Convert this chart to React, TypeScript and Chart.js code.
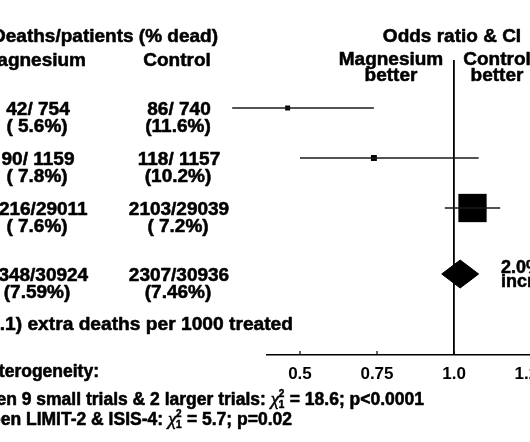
import { useEffect, useRef } from 'react';
import { Chart, registerables } from 'chart.js';

Chart.register(...registerables);

// ---------- data ----------
const STUDIES = ['9 small trials', 'LIMIT-2', 'ISIS-4', 'Overall'];
const MAG_COUNTS = ['42/ 754', '90/ 1159', '2216/29011', '2348/30924'];
const MAG_PCTS = ['( 5.6%)', '( 7.8%)', '( 7.6%)', '(7.59%)'];
const CTRL_COUNTS = ['86/ 740', '118/ 1157', '2103/29039', '2307/30936'];
const CTRL_PCTS = ['(11.6%)', '(10.2%)', '( 7.2%)', '(7.46%)'];
const ODDS_RATIO = [0.46, 0.74, 1.06, 1.02];
const CI_LOW = [0.28, 0.5, 0.97, 0.96];
const CI_HIGH = [0.74, 1.08, 1.15, 1.08];
const X_TICKS = [0.5, 0.75, 1.0, 1.25];
const X_TICK_LABELS = ['0.5', '0.75', '1.0', '1.25'];

const HEADER_LEFT = 'Deaths/patients (% dead)';
const COL_MAG = 'Magnesium';
const COL_CTRL = 'Control';
const HEADER_RIGHT = 'Odds ratio & CI';
const FAVOURS_LEFT = ['Magnesium', 'better'];
const FAVOURS_RIGHT = ['Control', 'better'];
const OVERALL_NOTE = ['2.0% odds', 'increase'];
const EXTRA_DEATHS = '(SD 2.1) extra deaths per 1000 treated';
const HET_TITLE = 'Heterogeneity:';
const HET_TESTS = [
  { pre: 'between 9 small trials & 2 larger trials: ', post: ' = 18.6; p<0.0001' },
  { pre: 'between LIMIT-2 & ISIS-4: ', post: ' = 5.7; p=0.02' },
];

// ---------- layout (not data) ----------
const ROW_POS = [0.96, 1.96, 2.96, 4.28];
const BOX_RADIUS = [3.5, 4.2, 20];
const DIAMOND_HALF = 0.28;
const SANS = '"Liberation Sans", Arial, Helvetica, sans-serif';
const F = (size: number) => `bold ${size}px ${SANS}`;
const STROKE = 0.55;

const textPlugin = {
  id: 'forestText',
  afterDraw(chart: any) {
    const ctx = chart.ctx as CanvasRenderingContext2D;
    const ys = chart.scales.y;
    const xs = chart.scales.x;
    const area = chart.chartArea;
    ctx.save();
    ctx.fillStyle = '#000';
    ctx.strokeStyle = '#000';
    ctx.lineJoin = 'round';
    ctx.textBaseline = 'alphabetic';
    const put = (t: string, px: number, py: number) => {
      ctx.fillText(t, px, py);
      ctx.lineWidth = STROKE;
      ctx.strokeText(t, px, py);
    };
    const txt = (t: string, px: number, py: number, align: CanvasTextAlign, size: number) => {
      ctx.font = F(size);
      ctx.textAlign = align;
      put(t, px, py);
    };

    // small upward tick marks on the axis
    X_TICKS.forEach((v) => {
      const px = xs.getPixelForValue(v);
      ctx.lineWidth = 1.2;
      ctx.beginPath();
      ctx.moveTo(px, area.bottom);
      ctx.lineTo(px, area.bottom - 4);
      ctx.stroke();
    });

    // headers
    txt(HEADER_LEFT, 218, 42, 'right', 19);
    txt(COL_MAG, 86, 66, 'right', 19);
    txt(COL_CTRL, 177, 66, 'center', 19);
    txt(HEADER_RIGHT, 452, 42, 'center', 19);
    txt(FAVOURS_LEFT[0], 391, 65, 'center', 19);
    txt(FAVOURS_LEFT[1], 391, 81, 'center', 19);
    txt(FAVOURS_RIGHT[0], 497, 65, 'center', 19);
    txt(FAVOURS_RIGHT[1], 497, 81, 'center', 19);

    // row texts
    STUDIES.forEach((_, i) => {
      const py = ys.getPixelForValue(ROW_POS[i]);
      txt(MAG_COUNTS[i], 38, py + 6.5, 'center', 19);
      txt(MAG_PCTS[i], 37, py + 23.5, 'center', 19);
      txt(CTRL_COUNTS[i], 179, py + 6.5, 'center', 19);
      txt(CTRL_PCTS[i], 178, py + 23.5, 'center', 19);
    });

    // overall note
    const pyO = ys.getPixelForValue(ROW_POS[3]);
    txt(OVERALL_NOTE[0], 501, pyO - 1, 'left', 18);
    txt(OVERALL_NOTE[1], 501, pyO + 13, 'left', 18);

    txt(EXTRA_DEATHS, 293, 330, 'right', 19.2);
    txt(HET_TITLE, 99, 377, 'right', 17.5);

    // chi-square lines
    const CHI_FONT = 'italic 19.5px "Liberation Serif", "Times New Roman", serif';
    const chiLine = (pre: string, post: string, right: number, base: number) => {
      const size = 17.5;
      ctx.font = F(size);
      const wPre = ctx.measureText(pre).width;
      const wPost = ctx.measureText(post).width;
      ctx.font = CHI_FONT;
      const wChi = ctx.measureText('χ').width;
      ctx.font = F(10);
      const wIdx = Math.max(ctx.measureText('2').width, ctx.measureText('1').width);
      const total = wPre + wChi + wIdx + wPost;
      let x0 = right - total;
      ctx.textAlign = 'left';
      ctx.font = F(size);
      put(pre, x0, base);
      x0 += wPre;
      ctx.font = CHI_FONT;
      put('χ', x0, base);
      x0 += wChi - 0.5;
      ctx.font = F(10);
      put('2', x0, base - 8);
      put('1', x0, base + 3);
      x0 += wIdx + 0.5;
      ctx.font = F(size);
      put(post, x0, base);
    };
    chiLine(HET_TESTS[0].pre, HET_TESTS[0].post, 424, 404.5);
    chiLine(HET_TESTS[1].pre, HET_TESTS[1].post, 292, 425);

    ctx.restore();
  },
};

export default function App() {
  const ref = useRef<HTMLCanvasElement | null>(null);

  useEffect(() => {
    if (!ref.current) return;
    const ciSets = [0, 1, 2].map((i) => ({
      type: 'line' as const,
      label: STUDIES[i] + ' CI',
      data: [
        { x: CI_LOW[i], y: ROW_POS[i] },
        { x: CI_HIGH[i], y: ROW_POS[i] },
      ],
      showLine: true,
      borderColor: '#1a1a1a',
      borderWidth: 1.3,
      pointRadius: 0,
      fill: false,
      clip: false as any,
    }));
    const boxes = {
      type: 'scatter' as const,
      label: 'Odds ratio',
      data: [0, 1, 2].map((i) => ({ x: ODDS_RATIO[i], y: ROW_POS[i] })),
      pointStyle: 'rect' as const,
      pointRadius: BOX_RADIUS,
      backgroundColor: '#000',
      borderColor: '#000',
      borderWidth: 0,
      showLine: false,
    };
    const d = 3;
    const diamond = {
      type: 'line' as const,
      label: STUDIES[d],
      data: [
        { x: CI_LOW[d], y: ROW_POS[d] },
        { x: ODDS_RATIO[d], y: ROW_POS[d] - DIAMOND_HALF },
        { x: CI_HIGH[d], y: ROW_POS[d] },
        { x: ODDS_RATIO[d], y: ROW_POS[d] + DIAMOND_HALF },
        { x: CI_LOW[d], y: ROW_POS[d] },
      ],
      showLine: true,
      fill: 'shape' as any,
      backgroundColor: '#000',
      borderColor: '#000',
      borderWidth: 1,
      pointRadius: 0,
      tension: 0,
    };

    const chart = new Chart(ref.current, {
      type: 'scatter',
      data: { datasets: [...ciSets, boxes, diamond] as any },
      options: {
        animation: false,
        responsive: false,
        layout: { autoPadding: false, padding: { left: 267, right: 0, top: 60, bottom: 57 } },
        plugins: {
          legend: { display: false },
          tooltip: { enabled: false },
        },
        scales: {
          x: {
            type: 'linear',
            position: 'bottom',
            min: 0.393,
            max: 1.344,
            border: { display: true, color: '#000', width: 1.6 },
            grid: {
              drawTicks: false,
              color: (c: any) => (c.tick && Math.abs(c.tick.value - 1) < 1e-6 ? '#000' : 'rgba(0,0,0,0)'),
              lineWidth: 1.8,
            },
            ticks: {
              stepSize: 0.25,
              includeBounds: false,
              autoSkip: false,
              maxRotation: 0,
              padding: 9,
              color: '#000',
              font: { family: SANS, size: 17, weight: 'bold' },
              callback: (v: any) => {
                const i = X_TICKS.findIndex((t) => Math.abs(t - Number(v)) < 1e-6);
                return i >= 0 ? X_TICK_LABELS[i] : '';
              },
            },
            afterFit: (s: any) => {
              s.height = 30;
            },
          },
          y: { type: 'linear', display: false, min: 0, max: 5.9, reverse: true },
        },
      } as any,
      plugins: [textPlugin],
    });
    return () => chart.destroy();
  }, []);

  return (
    <div
      style={{
        position: 'fixed',
        left: 0,
        top: 0,
        width: 530,
        height: 442,
        overflow: 'hidden',
        background: '#fff',
      }}
    >
      <canvas ref={ref} width={560} height={442} style={{ display: 'block' }} />
    </div>
  );
}
